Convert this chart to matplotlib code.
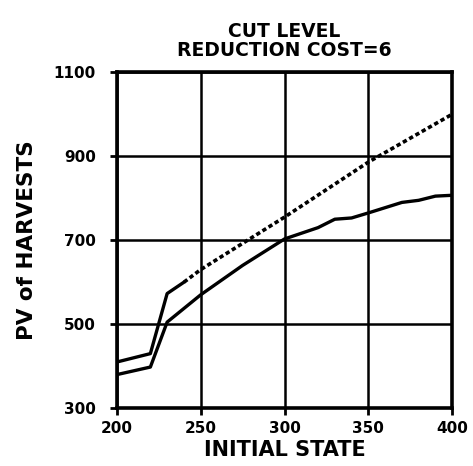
import matplotlib
matplotlib.use("Agg")
import matplotlib.pyplot as plt

# upper curve (solid at the start, dotted afterwards)
upper_x = [200, 220, 230, 240, 250, 300, 350, 400]
upper_y = [410, 430, 573, 600, 630, 755, 886, 1000]
split_at = 240

# lower curve
lower_x = [200, 220, 230, 250, 275, 300, 320, 330, 340, 350, 370, 380, 390, 400]
lower_y = [380, 398, 505, 570, 640, 703, 730, 750, 753, 765, 790, 795, 805, 807]

x_ticks = [200, 250, 300, 350, 400]
y_ticks = [300, 500, 700, 900, 1100]

fig = plt.figure(figsize=(4.73, 4.66), dpi=100)
ax = fig.add_axes([0.247, 0.124, 0.709, 0.721])

solid_x = [x for x in upper_x if x <= split_at]
solid_y = upper_y[:len(solid_x)]
dot_x = upper_x[len(solid_x) - 1:]
dot_y = upper_y[len(solid_x) - 1:]

ax.plot(solid_x, solid_y, color="black", lw=2.4, solid_capstyle="round")
ax.plot(dot_x, dot_y, color="black", lw=2.6, linestyle=(0, (1.2, 0.8)))
ax.plot(lower_x, lower_y, color="black", lw=2.4, solid_capstyle="round")

ax.set_xlim(200, 400)
ax.set_ylim(300, 1100)
ax.set_xticks(x_ticks)
ax.set_yticks(y_ticks)
ax.grid(True, color="black", lw=1.8)
for s in ax.spines.values():
    s.set_linewidth(2.6)
ax.tick_params(direction="out", length=5, width=2, labelsize=11)
ax.tick_params(axis="y", pad=10)
ax.tick_params(axis="x", pad=4)
for lab in ax.get_xticklabels() + ax.get_yticklabels():
    lab.set_fontweight("bold")

ax.set_xlabel("INITIAL STATE", fontsize=15, fontweight="bold", labelpad=3)
ax.set_ylabel("PV of HARVESTS", fontsize=15.5, fontweight="bold", labelpad=12)
ax.set_title("CUT LEVEL\nREDUCTION COST=6", fontsize=13.5, fontweight="bold",
             linespacing=0.95, pad=12)

fig.savefig("out.png", dpi=100)
